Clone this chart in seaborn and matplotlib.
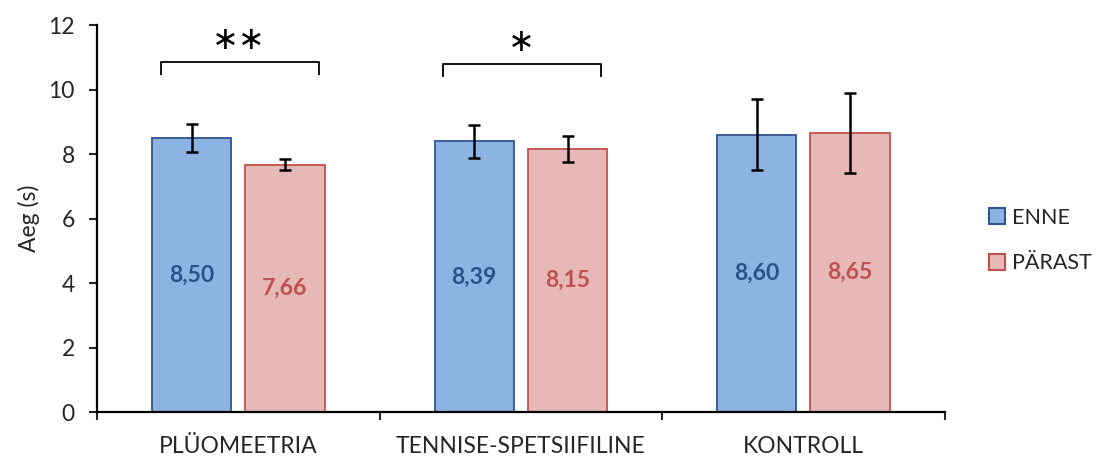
import numpy as np
import pandas as pd
import matplotlib
matplotlib.use("Agg")
import matplotlib.pyplot as plt
import seaborn as sns

# Andmed (loetud jooniselt)
groups = ["PLÜOMEETRIA", "TENNISE-SPETSIIFILINE", "KONTROLL"]
phases = ["ENNE", "PÄRAST"]
enne = [8.50, 8.39, 8.60]
parast = [7.66, 8.15, 8.65]
enne_sd = [0.43, 0.51, 1.10]
parast_sd = [0.17, 0.41, 1.23]

# olulisuse märgid
sig_labels = ["∗∗", "∗", ""]
sig_y = [10.84, 10.78, None]
yticks = [0, 2, 4, 6, 8, 10, 12]

fill_colors = ["#8DB3E2", "#E6B9B8"]
edge_colors = ["#2F5491", "#C0504D"]
text_colors = ["#2A5287", "#C0504D"]

df = pd.DataFrame({
    "grupp": groups * 2,
    "faas": [phases[0]] * 3 + [phases[1]] * 3,
    "aeg": enne + parast,
})

sns.set_style("white")
plt.rcParams["font.family"] = ["Lato", "DejaVu Sans"]

fig = plt.figure(figsize=(10.96, 4.58), dpi=100)
ax = fig.add_axes([0.0885, 0.1004, 0.7735, 0.845])

sns.barplot(data=df, x="grupp", y="aeg", hue="faas", order=groups, hue_order=phases,
            palette=fill_colors, saturation=1, width=0.66, gap=0.15, errorbar=None,
            linewidth=1.3, ax=ax, legend=False)

sds = [enne_sd, parast_sd]
vals = [enne, parast]
bar_conts = list(ax.containers)
for i, cont in enumerate(bar_conts):
    xs = []
    for bar in cont:
        bar.set_edgecolor(edge_colors[i])
        xs.append(bar.get_x() + bar.get_width() / 2)
    ax.errorbar(xs, vals[i], yerr=sds[i], fmt="none", ecolor="black",
                elinewidth=1.8, capsize=4.5, capthick=1.8, zorder=5)
    ax.bar_label(cont, labels=[f"{v:.2f}".replace(".", ",") for v in vals[i]],
                 label_type="center", color=text_colors[i], fontweight="bold", fontsize=16.5)

# sulud ja tärnid
for k, lab in enumerate(sig_labels):
    if not lab:
        continue
    y = sig_y[k]
    ax.plot([k - 0.275, k - 0.275, k + 0.285, k + 0.285], [y - 0.4, y, y, y - 0.4],
            color="black", lw=1.3, solid_capstyle="butt", solid_joinstyle="round")
    ax.text(k, y + 0.68, lab, ha="center", va="center", fontsize=23,
            family=["DejaVu Sans"], color="black")

ax.set_ylim(0, 12)
ax.set_yticks(yticks)
ax.set_xlim(-0.5, 2.5)
ax.set_xticks(range(len(groups)))
ax.set_xticklabels(groups)
ax.set_xticks([-0.5, 0.5, 1.5, 2.5], minor=True)
ax.tick_params(axis="x", which="major", length=0, pad=17, labelsize=16.5)
ax.tick_params(axis="x", which="minor", length=6, width=1.5, direction="out", bottom=True)
ax.tick_params(axis="y", length=6, width=1.5, direction="out", left=True, pad=10, labelsize=16.5)
ax.set_xlabel("")
ax.set_ylabel("Aeg (s)", fontsize=16.5, labelpad=6)

sns.despine(ax=ax)
for side in ["left", "bottom"]:
    ax.spines[side].set_color("black")
    ax.spines[side].set_linewidth(1.6)

handles = [plt.Rectangle((0, 0), 1, 1, facecolor=fill_colors[i], edgecolor=edge_colors[i], linewidth=1.5)
           for i in range(2)]
fig.legend(handles, phases, loc="center left", bbox_to_anchor=(0.885, 0.475), frameon=False,
           fontsize=15.5, handlelength=0.72, handleheight=0.72, handletextpad=0.35, labelspacing=1.2)

fig.savefig("out.png", dpi=100)
